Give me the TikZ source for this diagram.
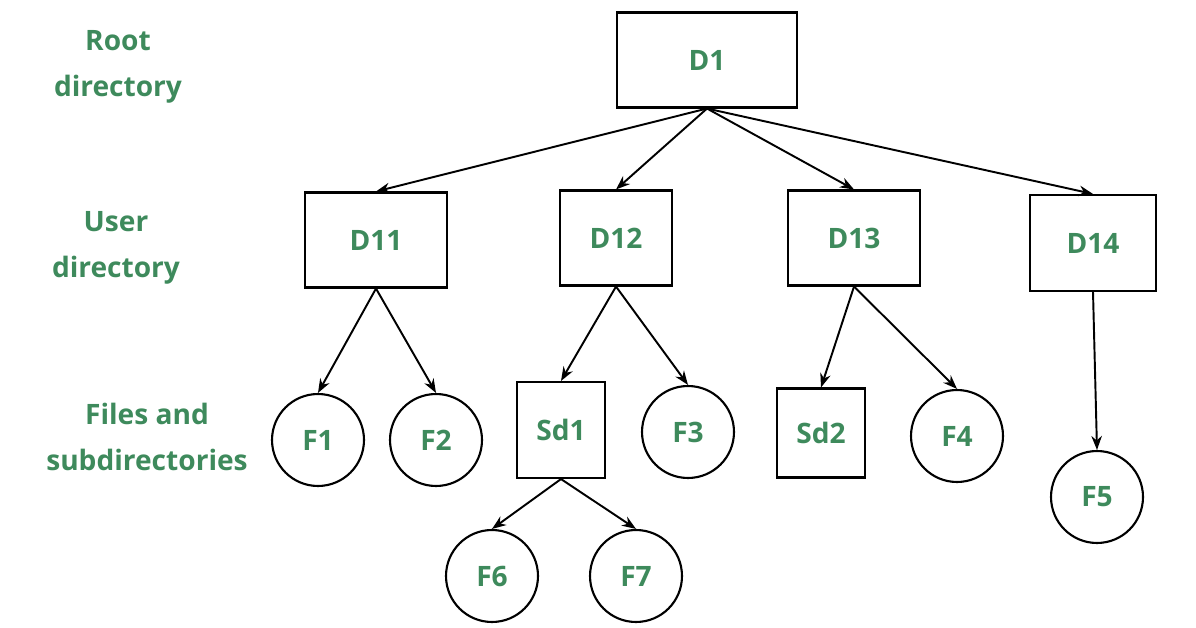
\documentclass[tikz,border=0pt]{standalone}
\usepackage{fontspec}
\setmainfont{Open Sans}
\usetikzlibrary{arrows.meta}
\definecolor{leafgreen}{HTML}{3E8A5C}
\begin{document}
\begin{tikzpicture}[x=0.02cm,y=-0.02cm,
    box/.style={draw,line width=1.2pt,inner sep=0pt,text=leafgreen,font=\bfseries\fontsize{16}{18}\selectfont},
    leaf/.style={draw,circle,line width=1.2pt,minimum size=1.84cm,inner sep=0pt,text=leafgreen,font=\bfseries\fontsize{16}{18}\selectfont},
    level/.style={align=center,text=leafgreen,font=\bfseries\fontsize{16}{26}\selectfont},
    link/.style={-{Stealth[length=8pt,width=6pt]},line width=1.1pt}]
    \useasboundingbox (0,0) rectangle (1196,628);

    % Levels
    \node[level] (lroot) at (118,67) {Root\\directory};
    \node[level] (luser) at (116,248) {User\\directory};
    \node[level] (lfile) at (147,437) {Files and\\subdirectories};

    % Directories
    \node[box,minimum width=3.6cm,minimum height=1.9cm] (d1) at (707,60) {D1};
    \node[box,minimum width=2.84cm,minimum height=1.9cm] (d11) at (376,240) {D11};
    \node[box,minimum width=2.24cm,minimum height=1.9cm] (d12) at (616,238) {D12};
    \node[box,minimum width=2.64cm,minimum height=1.9cm] (d13) at (854,238) {D13};
    \node[box,minimum width=2.52cm,minimum height=1.92cm] (d14) at (1093,243) {D14};
    \node[box,minimum width=1.76cm,minimum height=1.92cm] (sd1) at (561,430) {Sd1};
    \node[box,minimum width=1.76cm,minimum height=1.78cm] (sd2) at (821,433) {Sd2};

    % Files
    \node[leaf] (f1) at (318,440) {F1};
    \node[leaf] (f2) at (436,440) {F2};
    \node[leaf] (f3) at (688,432) {F3};
    \node[leaf] (f4) at (957,436) {F4};
    \node[leaf] (f5) at (1097,497) {F5};
    \node[leaf] (f6) at (492,576) {F6};
    \node[leaf] (f7) at (636,576) {F7};

    % Links
    \foreach \c in {d11,d12,d13,d14}
        \draw[link] (d1.south) -- (\c.north);
    \draw[link] (d11.south) -- (f1.north);
    \draw[link] (d11.south) -- (f2.north);
    \draw[link] (d12.south) -- (sd1.north);
    \draw[link] (d12.south) -- (f3.north);
    \draw[link] (d13.south) -- (sd2.north);
    \draw[link] (d13.south) -- (f4.north);
    \draw[link] (d14.south) -- (f5.north);
    \draw[link] (sd1.south) -- (f6.north);
    \draw[link] (sd1.south) -- (f7.north);
\end{tikzpicture}
\end{document}
